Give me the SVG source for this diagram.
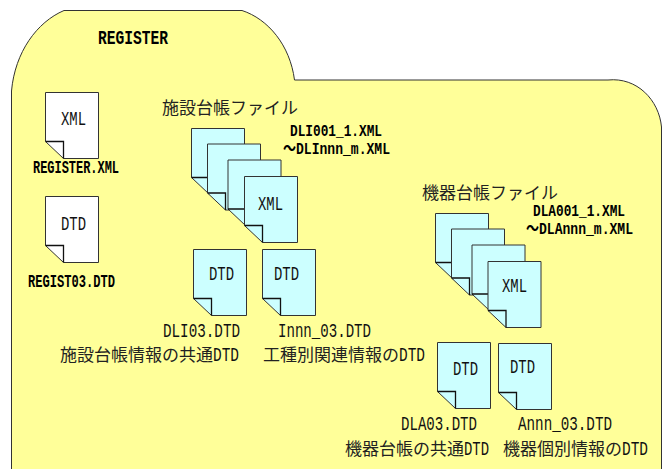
<svg xmlns="http://www.w3.org/2000/svg" width="663" height="469" viewBox="0 0 663 469">
<style>
text{font-family:"Liberation Mono","Noto Sans CJK JP",monospace;fill:#111}
.n{font-size:20px}
.j{font-size:17px;fill:#222}
.b{font-size:18px;font-weight:bold;fill:#000}
.s{font-size:16px;font-weight:bold;fill:#000}
.t{font-size:21px;font-weight:bold;fill:#000}
.w{fill:#fff}.c{fill:#cff}
.d{stroke:#333;stroke-width:1}
.f{fill:none;stroke:#111;stroke-width:1.300}
</style>
<defs>
<path id="doc" d="M0 0H53V66H18L0 49Z"/>
<path id="fold" d="M0 49H18V66"/>
</defs>
<rect width="663" height="469" fill="#fff"/>
<g id="folder">
<path d="M11.500 469V91C15 52 37 22 64 10.500H242C268 19 290 45 294.500 80H608C637 77 659 100 661.500 127V469" fill="#ff9" stroke="#333" stroke-width="1"/>
<text class="t" x="98" y="44" textLength="70" lengthAdjust="spacingAndGlyphs">REGISTER</text>
</g>
<g id="register-xml">
<use href="#doc" x="45.500" y="92.500" class="w d"/><use href="#fold" x="45.500" y="92.500" class="f"/>
<text class="n" x="61" y="125" textLength="25" lengthAdjust="spacingAndGlyphs">XML</text>
<text class="b" x="33" y="173" textLength="86" lengthAdjust="spacingAndGlyphs">REGISTER.XML</text>
</g>
<g id="regist03-dtd">
<use href="#doc" x="45.500" y="196.500" class="w d"/><use href="#fold" x="45.500" y="196.500" class="f"/>
<text class="n" x="61" y="230" textLength="25" lengthAdjust="spacingAndGlyphs">DTD</text>
<text class="b" x="28" y="287" textLength="87" lengthAdjust="spacingAndGlyphs">REGIST03.DTD</text>
</g>
<g id="dli-xml-stack">
<text class="j" x="162" y="114" textLength="136" lengthAdjust="spacingAndGlyphs">施設台帳ファイル</text>
<text class="s" x="290" y="136" textLength="92" lengthAdjust="spacingAndGlyphs">DLI001_1.XML</text>
<text class="s" x="283" y="154" textLength="107" lengthAdjust="spacingAndGlyphs">～DLInnn_m.XML</text>
<use href="#doc" x="191.500" y="128.500" class="c d"/><use href="#fold" x="191.500" y="128.500" class="f"/>
<use href="#doc" x="207.500" y="144" class="c d"/><use href="#fold" x="207.500" y="144" class="f"/>
<use href="#doc" x="228" y="160" class="c d"/><use href="#fold" x="228" y="160" class="f"/>
<use href="#doc" x="244.500" y="176.500" class="c d"/><use href="#fold" x="244.500" y="176.500" class="f"/>
<text class="n" x="258" y="210" textLength="25" lengthAdjust="spacingAndGlyphs">XML</text>
</g>
<g id="dli03-dtd">
<use href="#doc" x="193.500" y="249.500" class="c d"/><use href="#fold" x="193.500" y="249.500" class="f"/>
<text class="n" x="209" y="280" textLength="25" lengthAdjust="spacingAndGlyphs">DTD</text>
<text class="n" x="163" y="337" textLength="77" lengthAdjust="spacingAndGlyphs">DLI03.DTD</text>
<text class="j" x="60" y="361" textLength="153" lengthAdjust="spacingAndGlyphs">施設台帳情報の共通</text>
<text class="n" x="213" y="361" textLength="26" lengthAdjust="spacingAndGlyphs">DTD</text>
</g>
<g id="innn-03-dtd">
<use href="#doc" x="262.500" y="249.500" class="c d"/><use href="#fold" x="262.500" y="249.500" class="f"/>
<text class="n" x="274" y="280" textLength="25" lengthAdjust="spacingAndGlyphs">DTD</text>
<text class="n" x="278" y="337" textLength="93" lengthAdjust="spacingAndGlyphs">Innn_03.DTD</text>
<text class="j" x="263" y="361" textLength="136" lengthAdjust="spacingAndGlyphs">工種別関連情報の</text>
<text class="n" x="399" y="361" textLength="26" lengthAdjust="spacingAndGlyphs">DTD</text>
</g>
<g id="dla-xml-stack">
<text class="j" x="422" y="199" textLength="136" lengthAdjust="spacingAndGlyphs">機器台帳ファイル</text>
<text class="s" x="533" y="216" textLength="92" lengthAdjust="spacingAndGlyphs">DLA001_1.XML</text>
<text class="s" x="526" y="234" textLength="107" lengthAdjust="spacingAndGlyphs">～DLAnnn_m.XML</text>
<use href="#doc" x="435.500" y="213.500" class="c d"/><use href="#fold" x="435.500" y="213.500" class="f"/>
<use href="#doc" x="451.500" y="229" class="c d"/><use href="#fold" x="451.500" y="229" class="f"/>
<use href="#doc" x="472" y="245" class="c d"/><use href="#fold" x="472" y="245" class="f"/>
<use href="#doc" x="488" y="261.500" class="c d"/><use href="#fold" x="488" y="261.500" class="f"/>
<text class="n" x="502" y="292" textLength="25" lengthAdjust="spacingAndGlyphs">XML</text>
</g>
<g id="dla03-dtd">
<use href="#doc" x="437.500" y="342.500" class="c d"/><use href="#fold" x="437.500" y="342.500" class="f"/>
<text class="n" x="453" y="375" textLength="25" lengthAdjust="spacingAndGlyphs">DTD</text>
<text class="n" x="401" y="430" textLength="76" lengthAdjust="spacingAndGlyphs">DLA03.DTD</text>
<text class="j" x="345" y="455" textLength="119" lengthAdjust="spacingAndGlyphs">機器台帳の共通</text>
<text class="n" x="464" y="455" textLength="25" lengthAdjust="spacingAndGlyphs">DTD</text>
</g>
<g id="annn-03-dtd">
<use href="#doc" x="498.500" y="343.500" class="c d"/><use href="#fold" x="498.500" y="343.500" class="f"/>
<text class="n" x="510" y="373" textLength="25" lengthAdjust="spacingAndGlyphs">DTD</text>
<text class="n" x="518" y="430" textLength="94" lengthAdjust="spacingAndGlyphs">Annn_03.DTD</text>
<text class="j" x="503" y="455" textLength="119" lengthAdjust="spacingAndGlyphs">機器個別情報の</text>
<text class="n" x="622" y="455" textLength="26" lengthAdjust="spacingAndGlyphs">DTD</text>
</g>
</svg>
